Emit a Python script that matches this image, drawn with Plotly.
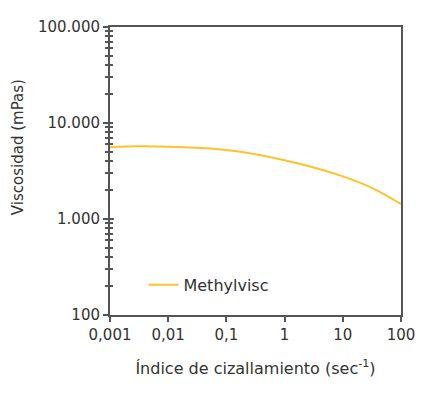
import plotly.graph_objects as go

shear_rate = [0.001, 0.00316, 0.01, 0.0316, 0.1, 0.316, 1, 3.16, 10, 31.6, 100]
viscosity = [5600, 5710, 5670, 5510, 5220, 4720, 4090, 3440, 2780, 2110, 1430]
series_name = "Methylvisc"

x_tickvals = [0.001, 0.01, 0.1, 1, 10, 100]
x_ticktext = ["0,001", "0,01", "0,1", "1", "10", "100"]
y_tickvals = [100, 1000, 10000, 100000]
y_ticktext = ["100", "1.000", "10.000", "100.000"]

FONT = "DejaVu Sans"
AX = "#555555"
TXT = "#333333"
FS = 15

fig = go.Figure()
fig.add_trace(go.Scatter(
    x=shear_rate, y=viscosity, mode="lines", name=series_name,
    line=dict(color="#FFC12E", width=2, shape="spline", smoothing=1.0),
))
fig.add_trace(go.Scatter(x=[None], y=[None], yaxis="y2", showlegend=False))

fig.update_layout(
    width=429, height=398,
    margin=dict(l=110, r=28, t=27, b=83),
    paper_bgcolor="white", plot_bgcolor="white",
    font=dict(family=FONT, size=FS, color=TXT),
    showlegend=True,
    legend=dict(x=0.115, y=0.105, xanchor="left", yanchor="middle",
                bgcolor="rgba(0,0,0,0)", font=dict(size=16, color=TXT)),
    xaxis=dict(
        type="log", range=[-3, 2],
        tickvals=x_tickvals, ticktext=x_ticktext,
        ticks="outside", ticklen=5, tickwidth=2, tickcolor=AX,
        showline=True, linecolor=AX, linewidth=2, mirror=True,
        showgrid=False, zeroline=False,
        title=dict(text="Índice de cizallamiento (sec<sup>-1</sup>)", standoff=20,
                   font=dict(size=16, color=TXT)),
    ),
    yaxis=dict(
        type="log", range=[2, 5],
        tickvals=y_tickvals, ticktext=y_ticktext,
        ticks="outside", ticklen=5, tickwidth=2, tickcolor=AX,
        minor=dict(ticks="outside", ticklen=3, tickwidth=2, tickcolor=AX,
                   dtick="D1"),
        showline=True, linecolor=AX, linewidth=2, mirror=True,
        showgrid=False, zeroline=False,
    ),
    yaxis2=dict(
        type="log", range=[2, 5], overlaying="y", side="left",
        tickvals=y_tickvals, ticktext=["", "", "", ""],
        ticks="inside", ticklen=4, tickwidth=2, tickcolor=AX,
        minor=dict(ticks="inside", ticklen=3, tickwidth=2, tickcolor=AX,
                   dtick="D1"),
        showline=False, showgrid=False, zeroline=False,
        showticklabels=False,
    ),
    annotations=[dict(
        text="Viscosidad (mPas)", textangle=-90, showarrow=False,
        xref="paper", yref="paper", x=-0.316, y=0.583,
        xanchor="center", yanchor="middle",
        font=dict(size=FS, color=TXT),
    )],
)

fig.write_html("out.html")
